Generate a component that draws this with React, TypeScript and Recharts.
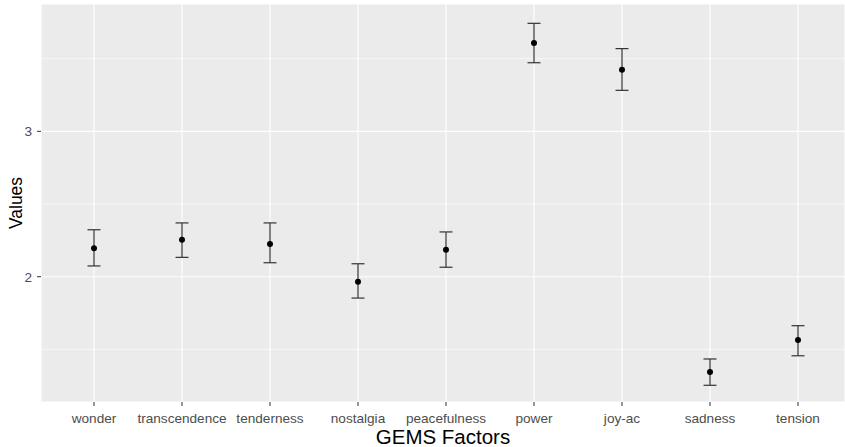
import React from 'react';
import { ComposedChart, Line, ErrorBar, XAxis, YAxis, CartesianGrid, ReferenceLine } from 'recharts';

const categories = ['wonder', 'transcendence', 'tenderness', 'nostalgia', 'peacefulness', 'power', 'joy-ac', 'sadness', 'tension'];
const means = [2.195, 2.255, 2.225, 1.966, 2.186, 3.608, 3.424, 1.344, 1.564];
const lower = [2.074, 2.133, 2.096, 1.853, 2.065, 3.472, 3.282, 1.253, 1.456];
const upper = [2.323, 2.370, 2.370, 2.089, 2.308, 3.743, 3.569, 1.434, 1.663];
const majorTicks = [2, 3];
const minorTicks = [1.5, 2.5, 3.5];
const yDomain = [1.138, 3.876];

const data = categories.map((c, i) => ({
  name: c,
  mean: means[i],
  err: [means[i] - lower[i], upper[i] - means[i]],
}));

const FONT = '"Liberation Sans", Arial, sans-serif';

const XTitle = (props: any) => {
  const vb = props.viewBox || {};
  return (
    <text x={vb.x + vb.width / 2} y={444} textAnchor="middle" fontSize={20.5} fill="#000" fontFamily={FONT}>
      GEMS Factors
    </text>
  );
};

const YTitle = (props: any) => {
  const cy = 203;
  return (
    <text x={22} y={cy} transform={`rotate(-90, 22, ${cy})`} textAnchor="middle" fontSize={17.5} fill="#000" fontFamily={FONT}>
      Values
    </text>
  );
};

export default function App() {
  return (
    <div style={{ position: 'absolute', left: 0, top: 0, width: 845, height: 447, background: '#fff' }}>
      <ComposedChart
        width={845}
        height={447}
        data={data}
        margin={{ top: 4, right: 0, bottom: 0, left: 0 }}
        style={{ fontFamily: FONT }}
      >
        <CartesianGrid fill="#EBEBEB" stroke="#FFFFFF" strokeWidth={1.1} />
        {minorTicks.map((v) => (
          <ReferenceLine key={v} y={v} stroke="#FFFFFF" strokeWidth={0.6} />
        ))}
        <XAxis
          dataKey="name"
          type="category"
          scale="point"
          padding={{ left: 53, right: 47 }}
          height={45}
          axisLine={false}
          tickLine={{ stroke: '#333333', strokeWidth: 1 }}
          tickSize={4}
          tickMargin={7}
          tick={{ fill: '#4D4D4D', fontSize: 13.6, fontFamily: FONT }}
          interval={0}
          label={<XTitle />}
        />
        <YAxis
          type="number"
          domain={yDomain}
          ticks={majorTicks}
          allowDataOverflow
          width={41}
          axisLine={false}
          tickLine={{ stroke: '#333333', strokeWidth: 1 }}
          tickSize={4}
          tickMargin={5}
          tick={{ fill: '#4D4D4D', fontSize: 13.6, fontFamily: FONT }}
          label={<YTitle />}
        />
        <Line
          dataKey="mean"
          stroke="none"
          isAnimationActive={false}
          dot={{ r: 3, fill: '#000', stroke: 'none' }}
          activeDot={false}
        >
          <ErrorBar dataKey="err" direction="y" width={6.5} stroke="#333333" strokeWidth={1.2} />
        </Line>
      </ComposedChart>
    </div>
  );
}
